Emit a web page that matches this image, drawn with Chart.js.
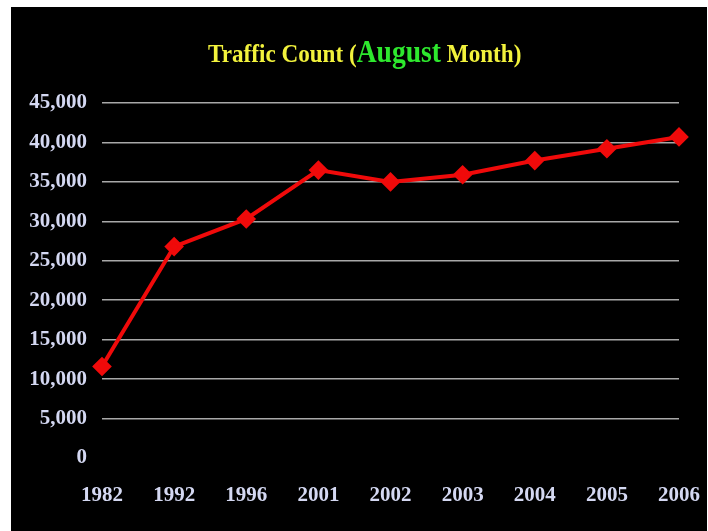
<!DOCTYPE html>
<html>
<head>
<meta charset="utf-8">
<script src="https://cdn.jsdelivr.net/npm/chart.js@4/dist/chart.umd.min.js"></script>
<style>
  html, body { margin: 0; padding: 0; background: #ffffff; }
  #frame { position: absolute; left: 11px; top: 7px; width: 696px; height: 524px; background: #000000; }
  #chart { position: absolute; left: 0; top: 0; width: 696px; height: 524px; }
  #title { position: absolute; left: 197px; top: 28px; white-space: nowrap;
           transform: scaleX(0.89); transform-origin: left bottom;
           font-family: "Liberation Serif", "Times New Roman", serif; font-weight: bold; color: #F2F23C; line-height: 34px; }
  #title .a { font-size: 26px; }
  #title .g { font-size: 31px; color: #2EE82E; }
</style>
</head>
<body>
<div id="frame">
  <canvas id="chart" width="696" height="524"></canvas>
  <div id="title"><span class="a">Traffic Count (</span><span class="g">August</span><span class="a"> Month)</span></div>
</div>
<script>
const years = ["1982", "1992", "1996", "2001", "2002", "2003", "2004", "2005", "2006"];
const trafficCount = [11600, 26800, 30300, 36500, 35000, 35900, 37700, 39200, 40700];
const yMin = 0;
const yMax = 45000;
const yStep = 5000;

const labelColor = "#D4D8F2";
const labelFont = { family: "'Liberation Serif', 'Times New Roman', serif", size: 21, weight: "bold" };

new Chart(document.getElementById("chart"), {
  type: "line",
  data: {
    labels: years,
    datasets: [{
      label: "Traffic Count",
      data: trafficCount,
      borderColor: "#F00A0A",
      backgroundColor: "#F00A0A",
      borderWidth: 4,
      pointStyle: "rectRot",
      pointRadius: 7,
      pointHoverRadius: 7,
      tension: 0,
      fill: false
    }]
  },
  options: {
    responsive: false,
    animation: false,
    devicePixelRatio: 1,
    layout: { padding: { top: 96, right: 28, left: 0, bottom: 0 } },
    plugins: { legend: { display: false }, title: { display: false }, tooltip: { enabled: false } },
    scales: {
      x: {
        offset: false,
        grid: { display: false, drawTicks: false },
        border: { display: false },
        ticks: { color: labelColor, font: labelFont, padding: 25, maxRotation: 0, autoSkip: false },
        afterFit: (s) => { s.height = 73; s.paddingLeft = 0; s.paddingRight = 0; }
      },
      y: {
        min: yMin, max: yMax,
        grid: {
          drawTicks: false,
          lineWidth: 1.5,
          color: (ctx) => (ctx.tick && ctx.tick.value === 0) ? "rgba(0,0,0,0)" : "#A8A8A8"
        },
        border: { display: false },
        ticks: { stepSize: yStep, color: labelColor, font: labelFont, padding: 15 },
        afterFit: (s) => { s.width = 91; s.paddingTop = 0; s.paddingBottom = 0; }
      }
    }
  }
});
</script>
</body>
</html>
